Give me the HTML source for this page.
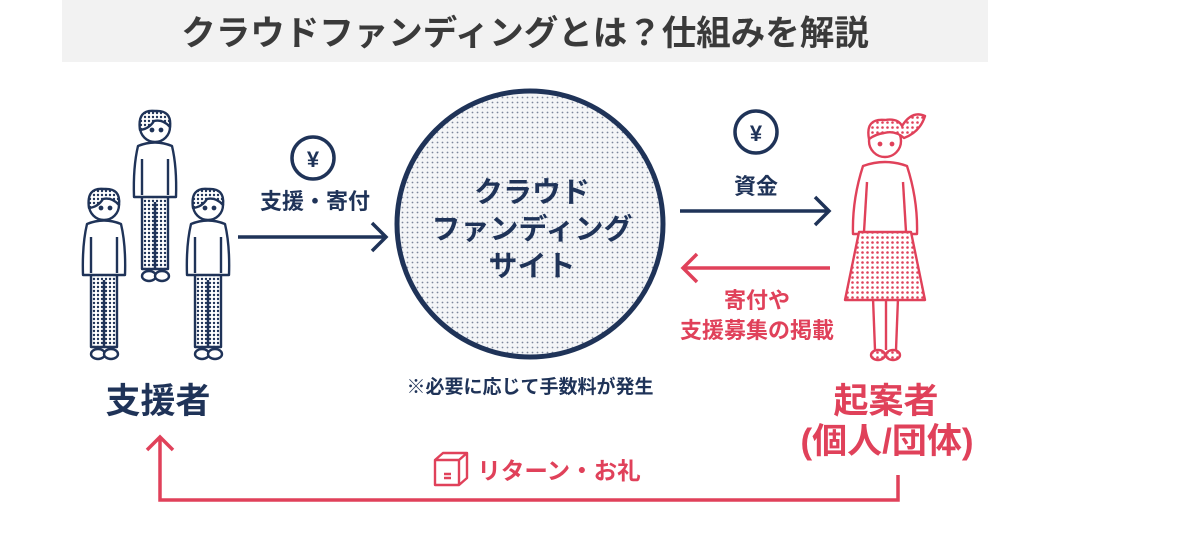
<!DOCTYPE html>
<html><head><meta charset="utf-8"><style>
html,body{margin:0;padding:0;background:#fff;}
svg{display:block;}
text{font-family:"Liberation Sans","Noto Sans CJK JP",sans-serif;font-weight:bold;}
</style></head><body>
<svg width="1199" height="535" viewBox="0 0 1199 535" xmlns="http://www.w3.org/2000/svg">
<defs>
<pattern id="dn" width="4" height="4" patternUnits="userSpaceOnUse"><rect width="4" height="4" fill="#fff"/><circle cx="2" cy="2" r="1.2" fill="#1f3358"/></pattern>
<pattern id="dc" width="5" height="5" patternUnits="userSpaceOnUse"><rect width="5" height="5" fill="#f4f5f7"/><circle cx="2.5" cy="2.5" r="0.9" fill="#7d879c"/></pattern>
<pattern id="dr" width="5" height="5" patternUnits="userSpaceOnUse"><rect width="5" height="5" fill="#fff"/><circle cx="2.5" cy="2.5" r="1.3" fill="#e0415a"/></pattern>
<g id="man" fill="none" stroke="#1f3358" stroke-width="2.4" stroke-linejoin="round">
  <path d="M-13 142 L-13 66 L13 66 L13 142 Z" fill="url(#dn)"/>
  <line x1="0" y1="75" x2="0" y2="142"/>
  <ellipse cx="-6" cy="149" rx="7" ry="5" fill="#fff"/>
  <ellipse cx="7" cy="149" rx="7" ry="5" fill="#fff"/>
  <path d="M-17 19 Q0 12 17 19 Q22 40 21 70 L-21 70 Q-22 40 -17 19 Z" fill="#fff"/>
  <line x1="-13" y1="32" x2="-13" y2="68"/><line x1="13" y1="32" x2="13" y2="68"/>
  <circle cx="0" cy="0" r="15" fill="#fff"/>
  <path d="M-15 3 Q-18 -18 0 -16 Q17 -17 15 0 Q8 -8 -1 -6 Q-6 2 -15 3 Z" fill="url(#dn)"/>
  <circle cx="-3" cy="3" r="1.2" fill="#1f3358"/><circle cx="6" cy="3" r="1.2" fill="#1f3358"/>
</g>
</defs>
<rect x="62" y="0" width="926" height="62" fill="#f2f2f2"/>
<text x="525" y="45" font-size="34.5" fill="#3a3a3a" text-anchor="middle">クラウドファンディングとは？仕組みを解説</text>

<use href="#man" x="155" y="127"/>
<use href="#man" x="104" y="205"/>
<use href="#man" x="208" y="205"/>
<text x="158" y="413" font-size="35" fill="#1f3358" text-anchor="middle">支援者</text>

<circle cx="530" cy="224" r="133" fill="url(#dc)" stroke="#1f3358" stroke-width="5"/>
<text x="532" y="202" font-size="29" fill="#1f3358" text-anchor="middle">クラウド</text>
<text x="532" y="239" font-size="29" fill="#1f3358" text-anchor="middle">ファンディング</text>
<text x="532" y="276" font-size="29" fill="#1f3358" text-anchor="middle">サイト</text>
<text x="530" y="393" font-size="19" fill="#1f3358" text-anchor="middle">※必要に応じて手数料が発生</text>

<circle cx="313" cy="158" r="21" fill="#fff" stroke="#1f3358" stroke-width="3.5"/>
<text x="313" y="167" font-size="22" fill="#1f3358" text-anchor="middle">¥</text>
<text x="315" y="209" font-size="22" fill="#1f3358" text-anchor="middle">支援・寄付</text>
<path d="M238 237 H385 M372 223 L386 237 L372 251" fill="none" stroke="#1f3358" stroke-width="3.5"/>

<circle cx="756" cy="132" r="21" fill="#fff" stroke="#1f3358" stroke-width="3.5"/>
<text x="756" y="141" font-size="22" fill="#1f3358" text-anchor="middle">¥</text>
<text x="756" y="194" font-size="22" fill="#1f3358" text-anchor="middle">資金</text>
<path d="M680 211 H828 M815 197 L829 211 L815 225" fill="none" stroke="#1f3358" stroke-width="3.5"/>

<path d="M830 268 H684 M697 254 L683 268 L697 282" fill="none" stroke="#e0415a" stroke-width="3.5"/>
<text x="757" y="308" font-size="22" fill="#e0415a" text-anchor="middle">寄付や</text>
<text x="757" y="338" font-size="22" fill="#e0415a" text-anchor="middle">支援募集の掲載</text>

<g fill="none" stroke="#e0415a" stroke-width="2.4" stroke-linejoin="round">
  <line x1="873" y1="298" x2="875" y2="350"/><line x1="886" y1="298" x2="886" y2="350"/><line x1="898" y1="298" x2="896" y2="350"/>
  <ellipse cx="878" cy="355" rx="7" ry="5" fill="url(#dr)"/><ellipse cx="893" cy="355" rx="7" ry="5" fill="url(#dr)"/>
  <path d="M863 166 Q885 158 907 166 Q918 200 917 234 L853 234 Q852 200 863 166 Z" fill="#fff"/>
  <line x1="867" y1="182" x2="864" y2="232"/><line x1="903" y1="182" x2="906" y2="232"/>
  <path d="M859 232 L911 232 L925 300 L845 300 Z" fill="url(#dr)"/>
  <circle cx="885" cy="141" r="16" fill="#fff"/>
  <path d="M869 139 Q865 118 885 120 Q898 118 902 126 Q912 110 925 116 Q920 132 904 138 Q895 130 884 133 Q876 134 869 139 Z" fill="url(#dr)"/>
  <circle cx="880" cy="144" r="1.2" fill="#e0415a"/><circle cx="892" cy="144" r="1.2" fill="#e0415a"/>
</g>
<text x="886" y="413" font-size="35" fill="#e0415a" text-anchor="middle">起案者</text>
<text x="887" y="453" font-size="35" fill="#e0415a" text-anchor="middle">(個人/団体)</text>

<path d="M898 475 V500 H160 V437 M147 450 L160 437 L173 450" fill="none" stroke="#e0415a" stroke-width="3.5"/>
<g fill="none" stroke="#e0415a" stroke-width="2.4" stroke-linejoin="round">
  <path d="M435 460 L443 453 H467 L467 478 L459 485 H435 Z M435 460 H459 L467 453 M459 460 V485"/>
  <path d="M444 474 H451 M444 478 H451"/>
</g>
<text x="559" y="479" font-size="23.5" fill="#e0415a" text-anchor="middle">リターン・お礼</text>
</svg>
</body></html>
